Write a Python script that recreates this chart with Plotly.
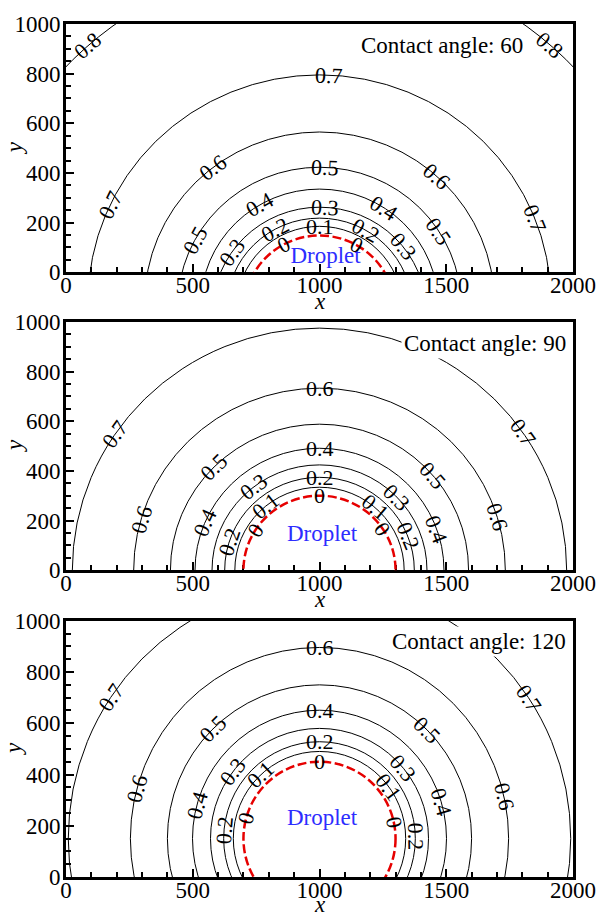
import math
import plotly.graph_objects as go

# ---------------- data ----------------
levels = [0.0, 0.1, 0.2, 0.3, 0.4, 0.5, 0.6, 0.7, 0.8]
contact_angles = [60, 90, 120]
x_tick_vals = [0, 500, 1000, 1500, 2000]
x_tick_text = ["0", "500", "1000", "1500", "2000"]
y_tick_vals = [0, 200, 400, 600, 800, 1000]
y_tick_text = ["0", "200", "400", "600", "800", "1000"]
droplet_center_x = 1000

# contour iso-lines (nearly circular): centre height and radius per level
ca60_center_y = [-148, -141, -148, -159, -133, -136, -125, -118, -114]
ca60_radius = [296, 326, 366, 421, 468, 559, 690, 913, 1374]
ca90_center_y = [0, 0, 0, 0, 0, 0, 0, 0]
ca90_radius = [300, 334, 374, 424, 491, 588, 733, 975]
ca120_center_y = [150, 150, 150, 150, 150, 150, 150, 150]
ca120_radius = [300, 340, 378, 430, 501, 600, 746, 991]

# where the contour labels sit (level, polar angle in degrees around the centre)
ca60_label_levels = [0.8, 0.8, 0.7, 0.7, 0.7, 0.6, 0.6, 0.5, 0.5, 0.5,
                     0.4, 0.4, 0.3, 0.3, 0.3, 0.2, 0.2, 0.1, 0.0, 0.0]
ca60_label_angles = [131.7, 48.5, 87.7, 154.6, 21.5, 127.6, 47.9, 87.6, 151.6, 32.7,
                     120.3, 56.8, 87.2, 145.3, 38.3, 118.5, 60.0, 90.0, 118.3, 60.7]
ca90_label_levels = [0.7, 0.7, 0.6, 0.6, 0.6, 0.5, 0.5, 0.4, 0.4, 0.4,
                     0.3, 0.3, 0.2, 0.2, 0.2, 0.1, 0.1, 0.0, 0.0, 0.0]
ca90_label_angles = [145.7, 34.6, 90.0, 163.7, 16.8, 134.9, 40.5, 90.0, 157.0, 19.7,
                     127.6, 44.0, 90.0, 162.0, 21.6, 129.2, 48.6, 90.0, 147.8, 33.5]
ca120_label_levels = [0.7, 0.7, 0.6, 0.6, 0.6, 0.5, 0.5, 0.4, 0.4, 0.4,
                      0.3, 0.3, 0.2, 0.2, 0.2, 0.1, 0.1, 0.0, 0.0, 0.0]
ca120_label_angles = [146.2, 33.5, 90.0, 164.8, 12.6, 134.3, 44.8, 90.0, 164.9, 16.3,
                      142.7, 39.7, 90.0, 175.0, 1.0, 133.0, 36.3, 90.0, 165.0, 11.8]

panels = [
    (ca60_center_y, ca60_radius, ca60_label_levels, ca60_label_angles),
    (ca90_center_y, ca90_radius, ca90_label_levels, ca90_label_angles),
    (ca120_center_y, ca120_radius, ca120_label_levels, ca120_label_angles),
]

# ---------------- layout constants ----------------
W, H = 608, 918
ML, MR, MT, MB = 66, 25, 18, 41
PLOT_H = H - MT - MB
PANEL_PX = [(18, 268), (318, 568), (619, 877)]   # top/bottom pixel rows
X_RANGE = [0, 2000]
Y_RANGE = [0, 1000]
FONT = "Liberation Serif, Times New Roman, serif"
droplet_text_pos = [(1024, 60), (1010, 139), (1010, 226)]
contact_text_pos = [(1815, 914), (1985, 914), (1985, 918)]
x_title_shift = [-29, -29, -27]

fig = go.Figure()
shapes = []
annotations = []
sx = (W - ML - MR) / (X_RANGE[1] - X_RANGE[0])

for p, (cys, rads, lab_lv, lab_ang) in enumerate(panels):
    n = "" if p == 0 else str(p + 1)
    xr, yr = "x" + n, "y" + n
    top, bot = PANEL_PX[p]
    sy = (bot - top) / (Y_RANGE[1] - Y_RANGE[0])

    # droplet name (also anchors the subplot)
    fig.add_trace(go.Scatter(
        x=[droplet_text_pos[p][0]], y=[droplet_text_pos[p][1]], mode="text",
        text=["Droplet"], textfont=dict(family=FONT, size=23, color="rgb(45,45,255)"),
        textposition="middle center", xaxis=xr, yaxis=yr, showlegend=False,
        hoverinfo="skip", cliponaxis=False))

    # iso-lines
    for i, (cy, r) in enumerate(zip(cys, rads)):
        if levels[i] == 0.0:
            line = dict(color="rgb(230,0,0)", width=2.5, dash="9px,3.5px")
        else:
            line = dict(color="black", width=1)
        shapes.append(dict(type="circle", xref=xr, yref=yr, layer="above",
                           x0=droplet_center_x - r, x1=droplet_center_x + r,
                           y0=cy - r, y1=cy + r, line=line))

    # contour labels along the lines
    for lv, ang in zip(lab_lv, lab_ang):
        i = levels.index(lv)
        cy, r = cys[i], rads[i]
        t = math.radians(ang)
        lx = droplet_center_x + r * math.cos(t)
        ly = cy + r * math.sin(t)
        rot = math.degrees(math.atan2(sy * math.cos(t), sx * math.sin(t)))
        txt = "0" if lv == 0 else f"{lv:.1f}"
        annotations.append(dict(x=lx, y=ly, xref=xr, yref=yr, text=txt,
                                showarrow=False, textangle=rot,
                                xanchor="center", yanchor="middle",
                                font=dict(family=FONT, size=22, color="black")))

    # contact angle caption
    annotations.append(dict(x=contact_text_pos[p][0], y=contact_text_pos[p][1],
                            xref=xr, yref=yr, text=f"Contact angle: {contact_angles[p]}",
                            showarrow=False, xanchor="right", yanchor="middle",
                            bgcolor="white", borderpad=2,
                            font=dict(family=FONT, size=23, color="black")))

    # axis titles
    annotations.append(dict(x=0.5, y=0, xref=xr + " domain", yref=yr + " domain",
                            text="<i>x</i>", showarrow=False, yshift=x_title_shift[p],
                            xanchor="center", yanchor="middle",
                            font=dict(family=FONT, size=23, color="black")))
    annotations.append(dict(x=0, y=0.5, xref=xr + " domain", yref=yr + " domain",
                            text="<i>y</i>", showarrow=False, xshift=-52, textangle=-90,
                            xanchor="center", yanchor="middle",
                            font=dict(family=FONT, size=23, color="black")))

    dom = [(H - MB - bot) / PLOT_H, (H - MB - top) / PLOT_H]
    ax_common = dict(showline=True, linewidth=3, linecolor="black", mirror=True,
                     ticks="inside", ticklen=8, tickwidth=1.5, tickcolor="black",
                     showgrid=False, zeroline=False, fixedrange=True,
                     tickfont=dict(family=FONT, size=23, color="black"))
    fig.update_layout(**{
        "xaxis" + n: dict(ax_common, range=X_RANGE, anchor=yr, domain=[0, 1],
                          tickmode="array", tickvals=x_tick_vals, ticktext=x_tick_text,
                          ticklabelstandoff=-10,
                          minor=dict(ticks="inside", tick0=0, dtick=100, ticklen=5,
                                     tickwidth=1.5, tickcolor="black", showgrid=False)),
        "yaxis" + n: dict(ax_common, range=Y_RANGE, anchor=xr, domain=dom,
                          tickmode="array", tickvals=y_tick_vals, ticktext=y_tick_text,
                          ticklabelstandoff=-2,
                          minor=dict(ticks="inside", tick0=0, dtick=50, ticklen=5,
                                     tickwidth=1.5, tickcolor="black", showgrid=False)),
    })

fig.update_layout(width=W, height=H, margin=dict(l=ML, r=MR, t=MT, b=MB),
                  plot_bgcolor="white", paper_bgcolor="white",
                  shapes=shapes, annotations=annotations, showlegend=False)

fig.write_html("out.html")
